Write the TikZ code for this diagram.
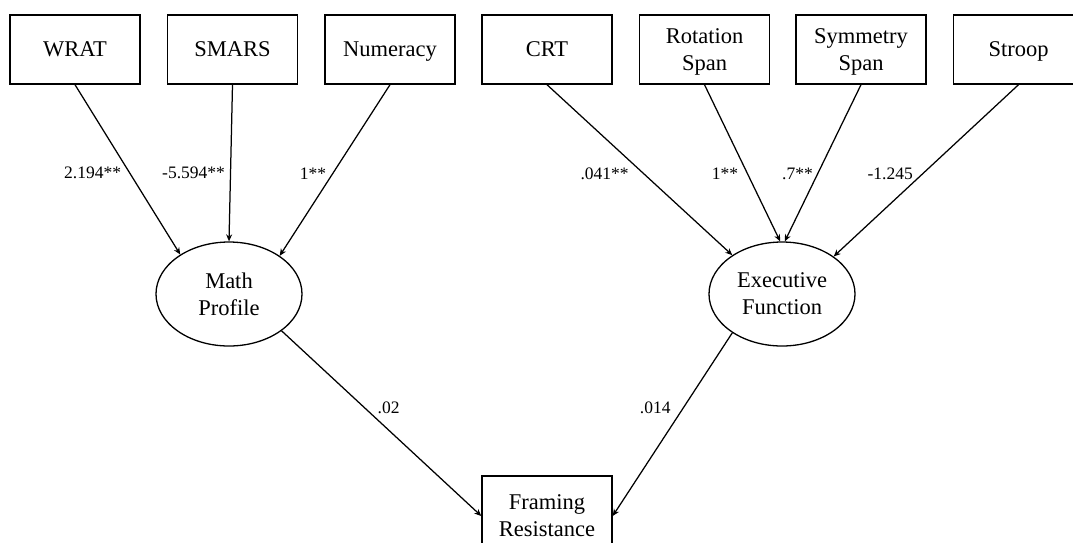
\documentclass[tikz,border=0pt]{standalone}
\usepackage{fontspec}
\setmainfont{Liberation Serif}
\usetikzlibrary{arrows.meta,shapes.geometric}
\tikzset{
  obs/.style={draw, line width=1.4pt, minimum width=130pt, minimum height=69pt, inner sep=0pt, text depth=0pt, align=center, font=\fontsize{22.5}{27}\selectfont},
  lat/.style={draw, ellipse, line width=1.3pt, minimum width=146pt, minimum height=104pt, inner sep=0pt, align=center, font=\fontsize{22.5}{27}\selectfont},
  arr/.style={line width=1.25pt, -{Stealth[length=7pt,width=6pt]}},
  lbl/.style={inner sep=0pt, font=\fontsize{17.5}{20}\selectfont}
}
\begin{document}
\begin{tikzpicture}[x=1pt,y=-1pt]
\useasboundingbox (0,0) rectangle (1073,542);
\clip (0,0) rectangle (1073,542);
\fill[white] (0,0) rectangle (1073,542);
% observed indicators
\node[obs] (wrat) at (75,49.5) {WRAT};
\node[obs] (smars) at (232.5,49.5) {SMARS};
\node[obs] (num) at (390,49.5) {Numeracy};
\node[obs] (crt) at (547,49.5) {CRT};
\node[obs] (rot) at (704.5,49.5) {Rotation\\Span};
\node[obs] (sym) at (861,49.5) {Symmetry\\Span};
\node[obs] (stroop) at (1018.5,49.5) {Stroop};
% latent
\node[lat] (math) at (229,294) {Math\\Profile};
\node[lat] (ef) at (782,294) {Executive\\Function};
% outcome
\node[obs, minimum height=80pt] (fr) at (547,516) {Framing\\Resistance};
% loadings
\draw[arr] (wrat.south) -- node[lbl, pos=0.52, left=8pt] {2.194**} (math.141.7);
\draw[arr] (smars.south) -- node[lbl, pos=0.56, left=5pt] {-5.594**} (math.90);
\draw[arr] (num.south) -- node[lbl, pos=0.52, left=6pt] {1**} (math.37.2);
\draw[arr] (crt.south) -- node[lbl, pos=0.52, left=14pt] {.041**} (ef.142.3);
\draw[arr] (rot.south) -- node[lbl, pos=0.571, left=9pt] {1**} (ef.92);
\draw[arr] (sym.south) -- node[lbl, pos=0.571, left=4pt] {.7**} (ef.87);
\draw[arr] (stroop.south) -- node[lbl, pos=0.52, left=9pt] {-1.245} (ef.36.7);
% structural paths
\draw[arr] (math.-35.8) -- node[lbl, pos=0.413, right=13pt] {.02} (fr.west);
\draw[arr] (ef.218.3) -- node[lbl, pos=0.411, left=12pt] {.014} (fr.east);
\end{tikzpicture}
\end{document}
